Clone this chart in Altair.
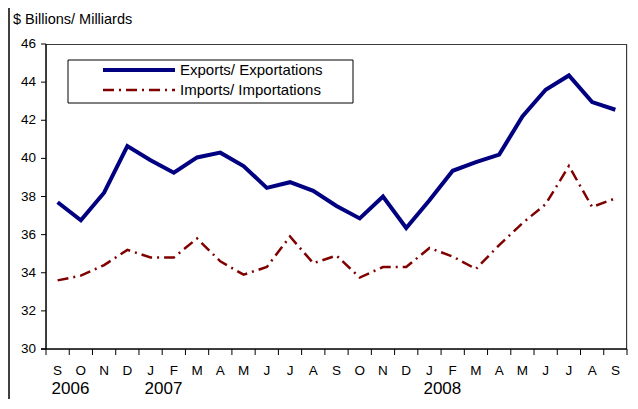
import altair as alt
import pandas as pd

months = ["S", "O", "N", "D", "J", "F", "M", "A", "M", "J", "J", "A", "S",
          "O", "N", "D", "J", "F", "M", "A", "M", "J", "J", "A", "S"]
years = ["2006", "2007", "2008"]
year_start_idx = [0, 4, 16]
exports = [37.7, 36.75, 38.2, 40.65, 39.9, 39.25, 40.05, 40.3, 39.6, 38.45, 38.75, 38.3, 37.5,
           36.85, 38.0, 36.35, 37.8, 39.35, 39.8, 40.2, 42.2, 43.6, 44.35, 42.95, 42.55]
imports = [33.6, 33.85, 34.4, 35.2, 34.8, 34.8, 35.8, 34.6, 33.9, 34.3, 35.9, 34.5, 34.9,
           33.75, 34.3, 34.3, 35.3, 34.85, 34.2, 35.45, 36.6, 37.6, 39.6, 37.45, 37.9]
series_names = ["Exports/ Exportations", "Imports/ Importations"]
y_title = "$ Billions/ Milliards"
y_ticks = [30, 32, 34, 36, 38, 40, 42, 44, 46]

FONT = "Liberation Sans"
W, H = 581, 305
PAD_L, PAD_T, PAD_R, PAD_B = 38, 36, 1, 50
n = len(months)
idx = list(range(n))

df = pd.DataFrame({"idx": idx, "month": months, "exports": exports, "imports": imports})
ydf = pd.DataFrame({"idx": year_start_idx, "year": years})
tick_df = pd.DataFrame({"b": [i - 0.5 for i in range(n + 1)]})
ytick_df = pd.DataFrame({"v": y_ticks})

xscale = alt.Scale(domain=[-0.5, n - 0.5], nice=False, zero=False)
yscale = alt.Scale(domain=[30, 46], nice=False, zero=False)

base = alt.Chart(df)

exp_line = base.mark_line(color="#000080", strokeWidth=4, strokeJoin="miter").encode(
    x=alt.X("idx:Q", scale=xscale, axis=None),
    y=alt.Y("exports:Q", scale=yscale, axis=None),
)
imp_line = base.mark_line(color="#800000", strokeWidth=2.5, strokeDash=[11, 5, 2, 5]).encode(
    x=alt.X("idx:Q", scale=xscale, axis=None),
    y=alt.Y("imports:Q", scale=yscale, axis=None),
)

one = pd.DataFrame({"k": [0]})
left_dom = alt.Chart(one).mark_rule(color="black", strokeWidth=1.5).encode(
    x=alt.value(0), y=alt.value(0), y2=alt.value(H))
bottom_dom = alt.Chart(one).mark_rule(color="black", strokeWidth=1.5).encode(
    x=alt.value(-5), x2=alt.value(W), y=alt.value(H))
top_rule = alt.Chart(one).mark_rule(color="#3a3a3a", strokeWidth=1).encode(
    x=alt.value(0), x2=alt.value(W), y=alt.value(0.5))
right_rule = alt.Chart(one).mark_rule(color="#3a3a3a", strokeWidth=1).encode(
    x=alt.value(W - 0.5), y=alt.value(0), y2=alt.value(H))
outer_rule = alt.Chart(one).mark_rule(color="black", strokeWidth=1.5).encode(
    x=alt.value(-PAD_L + 1), y=alt.value(-PAD_T), y2=alt.value(H + PAD_B))

x_ticks = alt.Chart(tick_df).mark_rule(color="black", strokeWidth=1).encode(
    x=alt.X("b:Q", scale=xscale, axis=None), y=alt.value(H), y2=alt.value(H + 6))
y_tick_marks = alt.Chart(ytick_df).mark_rule(color="black", strokeWidth=1).encode(
    y=alt.Y("v:Q", scale=yscale, axis=None), x=alt.value(-5), x2=alt.value(0))
y_tick_labels = alt.Chart(ytick_df).mark_text(font=FONT, fontSize=13.5, align="right",
                                              baseline="middle", color="black", dx=-10).encode(
    y=alt.Y("v:Q", scale=yscale, axis=None), x=alt.value(0), text="v:Q")

month_text = base.mark_text(font=FONT, fontSize=13.5, baseline="middle", align="center",
                            color="black").encode(
    x=alt.X("idx:Q", scale=xscale, axis=None), y=alt.value(H + 22), text="month:N")

year_text = alt.Chart(ydf).mark_text(font=FONT, fontSize=17, baseline="alphabetic",
                                     align="left", dx=-6, color="black").encode(
    x=alt.X("idx:Q", scale=xscale, axis=None), y=alt.value(H + 45), text="year:N")

title_text = alt.Chart(pd.DataFrame({"t": [y_title]})).mark_text(
    font=FONT, fontSize=14.5, align="left", baseline="alphabetic", color="black").encode(
    x=alt.value(-33), y=alt.value(-20), text="t:N")

legend_box = alt.Chart(one).mark_rect(fill="white", stroke="black", strokeWidth=1).encode(
    x=alt.value(22), x2=alt.value(307), y=alt.value(16), y2=alt.value(59))
leg_exp = alt.Chart(one).mark_rule(color="#000080", strokeWidth=4).encode(
    x=alt.value(57), x2=alt.value(129), y=alt.value(26))
leg_imp = alt.Chart(one).mark_rule(color="#800000", strokeWidth=2.5, strokeDash=[11, 5, 2, 5]).encode(
    x=alt.value(57), x2=alt.value(129), y=alt.value(46))
leg_t1 = alt.Chart(pd.DataFrame({"name": [series_names[0]]})).mark_text(
    font=FONT, fontSize=15, align="left", baseline="middle", color="black").encode(
    x=alt.value(134), y=alt.value(26), text="name:N")
leg_t2 = alt.Chart(pd.DataFrame({"name": [series_names[1]]})).mark_text(
    font=FONT, fontSize=15, align="left", baseline="middle", color="black").encode(
    x=alt.value(134), y=alt.value(46), text="name:N")

chart = alt.layer(
    top_rule, right_rule, exp_line, imp_line, left_dom, bottom_dom, outer_rule,
    x_ticks, y_tick_marks, y_tick_labels, month_text, year_text, title_text,
    legend_box, leg_exp, leg_imp, leg_t1, leg_t2
).properties(
    width=W, height=H,
    autosize=alt.AutoSizeParams(type="none"),
    padding={"left": PAD_L, "top": PAD_T, "right": PAD_R, "bottom": PAD_B},
).configure_view(stroke=None).configure(background="white")

chart.save("out.html", embed_options={"renderer": "svg", "actions": False})
